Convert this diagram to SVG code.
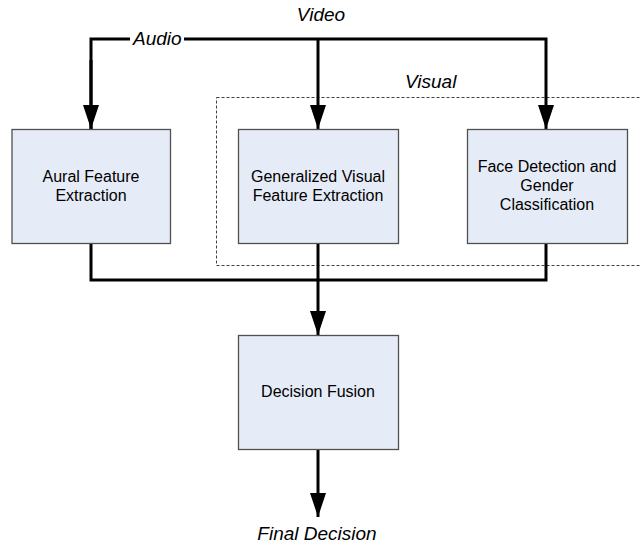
<svg xmlns="http://www.w3.org/2000/svg" width="641" height="546" viewBox="0 0 641 546">
  <style>
    .box { fill: #E6ECF7; stroke: #505050; stroke-width: 1.3; }
    .wire { fill: none; stroke: #000; stroke-width: 3; }
    .lbl { font-family: "Liberation Sans", Arial, sans-serif; font-size: 16px; fill: #000; text-anchor: middle; }
    .sig { font-family: "Liberation Sans", Arial, sans-serif; font-size: 19px; font-style: italic; fill: #000; }
    .group { fill: none; stroke: #404040; stroke-width: 1; stroke-dasharray: 3 2; }
  </style>
  <defs>
    <marker id="arrow" markerUnits="userSpaceOnUse" markerWidth="24" markerHeight="16" refX="24" refY="8" viewBox="0 0 24 16" orient="auto">
      <path d="M0,0 L24,8 L0,16 Z" fill="#000"/>
    </marker>
  </defs>

  <rect id="background" width="641" height="546" fill="#fff"/>

  <!-- dashed grouping of the visual branch -->
  <g id="visual-group">
    <rect class="group" x="216.5" y="97.5" width="440" height="168"/>
    <text class="sig" x="405" y="88">Visual</text>
  </g>

  <g id="connectors">
    <!-- input bus -->
    <path class="wire" d="M91,129 L91,39 L546,39 L546,129" marker-end="url(#arrow)"/>
    <path class="wire" d="M91,60 L91,129" marker-end="url(#arrow)"/>
    <path class="wire" d="M318,39 L318,129" marker-end="url(#arrow)"/>
    <!-- output bus -->
    <path class="wire" d="M91,243 L91,280 L546,280 L546,243"/>
    <path class="wire" d="M318,243 L318,335" marker-end="url(#arrow)"/>
    <path class="wire" d="M318,449 L318,517" marker-end="url(#arrow)"/>
    <!-- signal labels -->
    <rect x="130" y="30" width="54" height="18" fill="#fff"/>
    <text class="sig" x="133" y="45">Audio</text>
    <text class="sig" x="321" y="21" text-anchor="middle">Video</text>
    <text class="sig" x="317" y="540" text-anchor="middle">Final Decision</text>
  </g>

  <g id="aural">
    <rect class="box" x="12" y="129.5" width="158.5" height="114"/>
    <text class="lbl" x="91" y="182">Aural Feature</text>
    <text class="lbl" x="91" y="201">Extraction</text>
  </g>

  <g id="visual-features">
    <rect class="box" x="238.5" y="129.5" width="160" height="114"/>
    <text class="lbl" x="318" y="182">Generalized Visual</text>
    <text class="lbl" x="318" y="201">Feature Extraction</text>
  </g>

  <g id="face-gender">
    <rect class="box" x="467.5" y="129.5" width="160" height="114"/>
    <text class="lbl" x="547" y="172">Face Detection and</text>
    <text class="lbl" x="547" y="191">Gender</text>
    <text class="lbl" x="547" y="210">Classification</text>
  </g>

  <g id="fusion">
    <rect class="box" x="238.5" y="335.5" width="160" height="114"/>
    <text class="lbl" x="318" y="397">Decision Fusion</text>
  </g>
</svg>
